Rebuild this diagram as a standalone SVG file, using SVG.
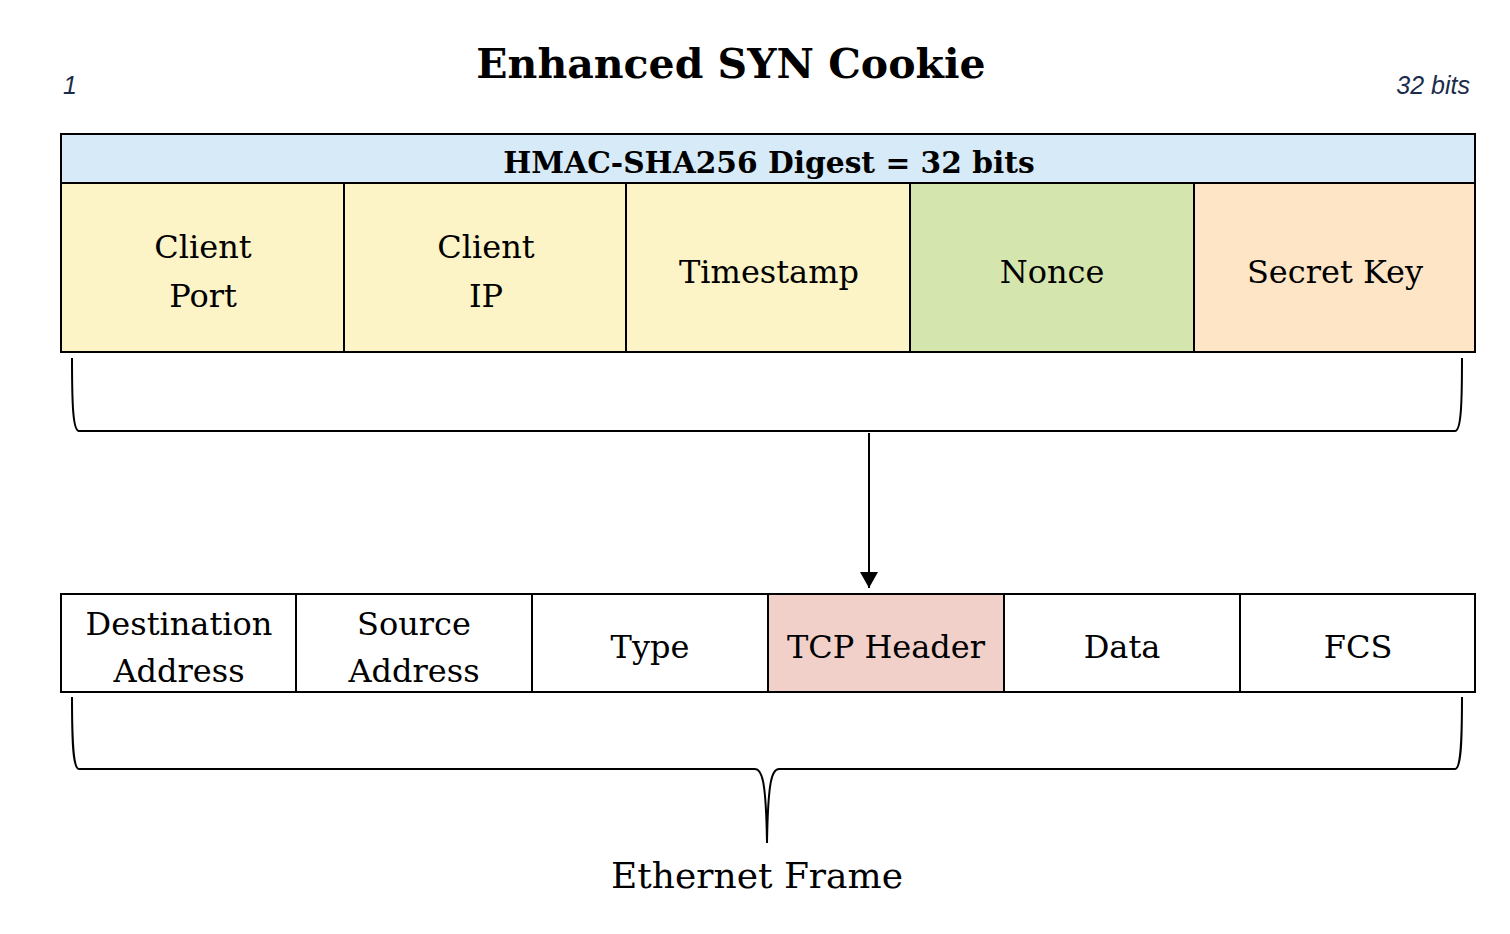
<svg xmlns="http://www.w3.org/2000/svg" width="1510" height="934" viewBox="0 0 1510 934">
<style>
.cell{stroke:#000;stroke-width:2}
.t{font-family:"DejaVu Serif","Liberation Serif",serif;font-size:32px;fill:#000;text-anchor:middle}
.b{font-weight:bold}
.small{font-family:"Liberation Sans",Arial,sans-serif;font-style:italic;font-size:25px;fill:#1c2b4a}
.line{fill:none;stroke:#000;stroke-width:2}
</style>
<defs>
<marker id="ah" markerWidth="18" markerHeight="18" refX="16" refY="9" orient="auto" markerUnits="userSpaceOnUse" viewBox="0 0 18 18">
<path d="M0,0 L16,9 L0,18 z" fill="#000"/>
</marker>
</defs>
<rect width="1510" height="934" fill="#fff"/>
<text class="t b" x="731" y="78" style="font-size:41px">Enhanced SYN Cookie</text>
<text class="small" x="63" y="94">1</text>
<text class="small" x="1470" y="94" text-anchor="end">32 bits</text>

<g id="header"><rect class="cell" x="61" y="134" width="1414" height="49" fill="#d6eaf8"/><text class="t b" x="769" y="173" style="font-size:29.7px">HMAC-SHA256 Digest = 32 bits</text></g>
<g id="client-port"><rect class="cell" x="61" y="183" width="283" height="169" fill="#fcf3c6"/><text class="t" x="203" y="258">Client</text><text class="t" x="203" y="307">Port</text></g>
<g id="client-ip"><rect class="cell" x="344" y="183" width="282" height="169" fill="#fcf3c6"/><text class="t" x="486" y="258">Client</text><text class="t" x="486" y="307">IP</text></g>
<g id="timestamp"><rect class="cell" x="626" y="183" width="284" height="169" fill="#fcf3c6"/><text class="t" x="769" y="283">Timestamp</text></g>
<g id="nonce"><rect class="cell" x="910" y="183" width="284" height="169" fill="#d5e5ae"/><text class="t" x="1052" y="283">Nonce</text></g>
<g id="secret-key"><rect class="cell" x="1194" y="183" width="281" height="169" fill="#fde5c6"/><text class="t" x="1335" y="283">Secret Key</text></g>

<g id="dest"><rect class="cell" x="61" y="594" width="235" height="98" fill="#fff"/><text class="t" x="179" y="635">Destination</text><text class="t" x="179" y="682">Address</text></g>
<g id="src"><rect class="cell" x="296" y="594" width="236" height="98" fill="#fff"/><text class="t" x="414" y="635">Source</text><text class="t" x="414" y="682">Address</text></g>
<g id="type"><rect class="cell" x="532" y="594" width="236" height="98" fill="#fff"/><text class="t" x="650" y="658">Type</text></g>
<g id="tcp"><rect class="cell" x="768" y="594" width="236" height="98" fill="#f2d0ca"/><text class="t" x="886" y="658">TCP Header</text></g>
<g id="data"><rect class="cell" x="1004" y="594" width="236" height="98" fill="#fff"/><text class="t" x="1122" y="658">Data</text></g>
<g id="fcs"><rect class="cell" x="1240" y="594" width="235" height="98" fill="#fff"/><text class="t" x="1358" y="658">FCS</text></g>

<g id="connectors">
<path class="line" d="M72,358 C72,405 73,431 79,431 H1455 C1461,431 1462,405 1462,358"/>
<path class="line" d="M869,433 V588" marker-end="url(#ah)"/>
<path class="line" d="M72,697 C72,742 73,769 79,769 H755 C762,769 766,780 767,843 C768,780 772,769 779,769 H1455 C1461,769 1462,742 1462,697"/>
</g>
<text class="t" x="757" y="888" style="font-size:36px">Ethernet Frame</text>
</svg>
